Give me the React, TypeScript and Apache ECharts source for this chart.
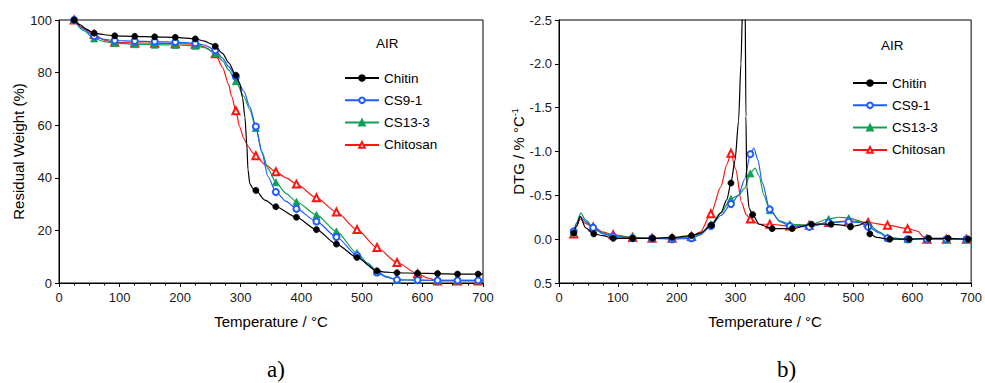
import React, { useEffect, useRef } from 'react';
import * as echarts from 'echarts';

const NAMES = ['Chitin', 'CS9-1', 'CS13-3', 'Chitosan'];
const COLORS = ['#000000', '#1f5cff', '#0f9f55', '#ff1414'];
const SYMBOLS = ['circle', 'emptyCircle', 'triangle', 'emptyTriangle'];
const SYMBOL_SIZES = [6, 6, 7, 7];

const X_TICKS_MAX = 700;
const TGA_TICKS = [0, 100];
const DTG_RANGE = [-2.5, 0.5];

// marker temperatures (°C)
const MARKERS_STD = [25, 58, 92, 125, 158, 192, 225, 258, 292, 325, 358, 392, 425, 458, 492, 525, 558, 592, 625, 658, 692];
const MARKERS_CHITIN_DTG = [25, 59, 92, 125, 159, 192, 225, 259, 292, 329, 362, 396, 429, 462, 495, 528, 562, 595, 628, 661, 695];

// ---- TGA (residual weight, %) ----
const chitinTGA = [
  [25, 100], [35, 98.2], [45, 96.5], [58, 95], [75, 94.4], [92, 94], [125, 93.8], [158, 93.6], [192, 93.4],
  [225, 92.8], [240, 92], [250, 91], [258, 90], [270, 87.3], [280, 83.8], [292, 79], [298, 76], [303, 70.5],
  [307, 63], [310, 53], [312, 43], [315, 37.8], [320, 36], [325, 35.2], [340, 31.5], [358, 29], [392, 25],
  [425, 20.3], [458, 14.8], [492, 9.7], [525, 4.6], [540, 4.1], [558, 3.9], [592, 3.7], [625, 3.6], [658, 3.4],
  [692, 3.4], [700, 3.4],
];
const cs91TGA = [
  [25, 100], [40, 96.5], [58, 93.8], [75, 92.6], [92, 92.2], [125, 92], [158, 91.8], [192, 91.6], [225, 91.2],
  [240, 90.5], [258, 88.5], [270, 85.5], [280, 82.3], [292, 78.5], [305, 73], [315, 67], [325, 59.5], [335, 49.5],
  [345, 40.5], [358, 34.6], [375, 31], [392, 28.2], [425, 23.4], [458, 17.5], [492, 10.5], [510, 7], [525, 4],
  [540, 2.2], [558, 1.2], [592, 1.1], [625, 1.0], [658, 1.0], [692, 1.0], [700, 1.0],
];
const cs133TGA = [
  [25, 100], [40, 96], [58, 93], [75, 91.8], [92, 91.2], [125, 90.8], [158, 90.6], [192, 90.5], [225, 90.2],
  [240, 89.5], [258, 87.5], [270, 84.5], [280, 81], [292, 76.7], [305, 71], [315, 66], [325, 58.9], [335, 50],
  [345, 43.5], [358, 38.3], [375, 34], [392, 30.9], [425, 25.9], [458, 19.6], [492, 11.4], [510, 7.5], [525, 4.5],
  [540, 2.5], [558, 1.2], [592, 1.1], [625, 1.0], [658, 1.0], [692, 1.0], [700, 1.0],
];
const chitosanTGA = [
  [25, 100], [40, 97], [58, 94.5], [75, 92.3], [92, 91.5], [125, 91.3], [158, 91.2], [192, 91.0], [225, 90.8],
  [240, 89.8], [258, 87.2], [270, 82], [280, 75.5], [285, 71], [292, 65.5], [298, 59.5], [305, 55], [312, 52],
  [320, 49.5], [325, 48.4], [340, 45], [358, 42.3], [375, 40], [392, 37.6], [425, 32.4], [458, 27], [492, 20.3],
  [525, 13.5], [558, 7.8], [592, 3.5], [610, 1.8], [625, 0.8], [658, 0.8], [692, 0.8], [700, 0.8],
];

// ---- DTG (%/°C) ----
const chitinDTG = [
  [25, -0.07], [30, -0.15], [36, -0.26], [45, -0.13], [59, -0.06], [75, -0.04], [92, -0.01], [105, -0.01],
  [125, -0.01], [159, -0.01], [192, -0.02], [225, -0.04], [240, -0.07], [259, -0.16], [275, -0.3], [285, -0.45],
  [292, -0.64], [299, -0.9], [305, -1.35], [309, -2.0], [312, -2.7], [314, -3.5], [316, -2.8], [317.5, -1.4],
  [319, -0.6], [323, -0.35], [329, -0.28], [340, -0.17], [362, -0.12], [396, -0.12], [429, -0.17], [462, -0.17],
  [480, -0.16], [495, -0.14], [510, -0.16], [520, -0.19], [524, -0.2], [528, -0.06], [540, -0.02], [562, 0.0],
  [595, 0.0], [628, -0.01], [661, -0.01], [695, 0.0], [700, 0.0],
];
const cs91DTG = [
  [25, -0.09], [30, -0.18], [36, -0.26], [45, -0.2], [58, -0.13], [75, -0.06], [92, -0.03], [125, -0.01],
  [158, -0.01], [192, 0.0], [225, -0.01], [240, -0.05], [258, -0.15], [275, -0.27], [292, -0.4], [305, -0.5],
  [315, -0.68], [325, -0.97], [331, -1.04], [338, -0.9], [345, -0.65], [358, -0.34], [375, -0.2], [392, -0.15],
  [425, -0.14], [458, -0.19], [492, -0.2], [510, -0.19], [525, -0.14], [545, -0.07], [558, -0.01], [592, 0.0],
  [625, 0.0], [658, 0.0], [692, 0.0], [700, 0.0],
];
const cs133DTG = [
  [25, -0.08], [30, -0.19], [37, -0.3], [45, -0.22], [58, -0.14], [75, -0.07], [92, -0.04], [125, -0.02],
  [158, -0.01], [192, -0.01], [225, -0.02], [240, -0.06], [258, -0.17], [275, -0.3], [292, -0.46], [305, -0.5],
  [315, -0.58], [325, -0.75], [333, -0.81], [340, -0.72], [348, -0.5], [358, -0.33], [375, -0.21], [392, -0.17],
  [425, -0.16], [458, -0.23], [475, -0.25], [492, -0.24], [510, -0.21], [525, -0.17], [545, -0.08], [558, -0.02],
  [592, 0.0], [625, -0.01], [658, 0.0], [692, 0.0], [700, 0.0],
];
const chitosanDTG = [
  [25, -0.06], [30, -0.15], [36, -0.23], [45, -0.18], [58, -0.14], [75, -0.08], [92, -0.05], [125, -0.02],
  [158, -0.01], [192, -0.01], [225, -0.03], [240, -0.08], [258, -0.29], [275, -0.6], [285, -0.85], [292, -0.98],
  [300, -0.8], [310, -0.42], [318, -0.28], [325, -0.23], [340, -0.17], [358, -0.17], [392, -0.15], [425, -0.16],
  [458, -0.19], [492, -0.21], [525, -0.19], [558, -0.16], [592, -0.12], [610, -0.09], [618, -0.03], [625, 0.0],
  [658, 0.0], [692, 0.0], [700, 0.0],
];

const TGA_DATA = [chitinTGA, cs91TGA, cs133TGA, chitosanTGA];
const DTG_DATA = [chitinDTG, cs91DTG, cs133DTG, chitosanDTG];
const DTG_MARKERS = [MARKERS_CHITIN_DTG, MARKERS_STD, MARKERS_STD, MARKERS_STD];

const FONT = 'Liberation Sans, Arial, sans-serif';

function buildData(points: number[][], markers: number[]) {
  return points.map((p) =>
    markers.includes(p[0]) ? { value: p } : { value: p, symbol: 'none' }
  );
}

function makeSeries(idx: number, data: any[], axisIndex: number) {
  return {
    type: 'line',
    name: NAMES[idx],
    xAxisIndex: axisIndex,
    yAxisIndex: axisIndex,
    data,
    symbol: SYMBOLS[idx],
    symbolSize: SYMBOL_SIZES[idx],
    showSymbol: true,
    showAllSymbol: true,
    smooth: 0.25,
    smoothMonotone: 'x',
    lineStyle: { color: COLORS[idx], width: 1.2 },
    itemStyle: { color: COLORS[idx], borderColor: COLORS[idx], borderWidth: 0.8 },
    emphasis: { disabled: true },
    z: 10 - idx,
  };
}

function xAxisDef(gridIndex: number) {
  return {
    type: 'value',
    gridIndex,
    min: 0,
    max: X_TICKS_MAX,
    interval: 100,
    name: 'Temperature / °C',
    nameLocation: 'middle',
    nameGap: 31,
    nameTextStyle: { fontSize: 15, color: '#000', fontFamily: FONT },
    axisLine: { show: true, onZero: false, lineStyle: { color: '#000', width: 1 } },
    axisTick: { show: true, inside: false, length: 4, lineStyle: { color: '#000' } },
    minorTick: { show: true, splitNumber: 4, length: 2.5, lineStyle: { color: '#000' } },
    axisLabel: { fontSize: 13, color: '#1a1a1a', margin: 8, fontFamily: FONT },
    splitLine: { show: false },
  };
}

export default function App() {
  const ref = useRef<HTMLDivElement>(null);
  useEffect(() => {
    if (!ref.current) return;
    const chart = echarts.init(ref.current, null, { renderer: 'svg' });
    const series: any[] = [];
    TGA_DATA.forEach((d, i) => series.push(makeSeries(i, buildData(d, MARKERS_STD), 0)));
    DTG_DATA.forEach((d, i) => series.push(makeSeries(i, buildData(d, DTG_MARKERS[i]), 1)));
    const legendBase = {
      orient: 'vertical',
      data: NAMES,
      itemWidth: 34,
      itemHeight: 7,
      itemGap: 8.3,
      padding: 0,
      selectedMode: false,
      textStyle: { fontSize: 13.5, color: '#000', fontFamily: FONT, padding: [0, 0, 0, 0] },
    };
    chart.setOption({
      animation: false,
      textStyle: { fontFamily: FONT },
      grid: [
        { left: 59, top: 20, width: 424, height: 263, show: true, borderColor: '#000', borderWidth: 1, backgroundColor: 'transparent' },
        { left: 559, top: 20, width: 415, height: 263, show: true, borderColor: '#000', borderWidth: 1, backgroundColor: 'transparent' },
      ],
      xAxis: [xAxisDef(0), xAxisDef(1)],
      yAxis: [
        {
          type: 'value',
          gridIndex: 0,
          min: TGA_TICKS[0],
          max: TGA_TICKS[1],
          interval: 20,
          name: 'Residual Weight (%)',
          nameLocation: 'middle',
          nameGap: 28,
          nameTextStyle: { fontSize: 15, color: '#000', fontFamily: FONT },
          axisLine: { show: true, onZero: false, lineStyle: { color: '#000', width: 1 } },
          axisTick: { show: true, inside: false, length: 4, lineStyle: { color: '#000' } },
          axisLabel: { fontSize: 13, color: '#1a1a1a', margin: 7, fontFamily: FONT },
          splitLine: { show: false },
        },
        {
          type: 'value',
          gridIndex: 1,
          min: DTG_RANGE[0],
          max: DTG_RANGE[1],
          interval: 0.5,
          inverse: true,
          name: '{a|DTG / % °C}{s|-1}',
          nameLocation: 'middle',
          nameGap: 25,
          nameTextStyle: {
            fontSize: 15,
            color: '#000',
            fontFamily: FONT,
            rich: {
              a: { fontSize: 15, color: '#000', fontFamily: FONT },
              s: { fontSize: 9, color: '#000', fontFamily: FONT, verticalAlign: 'top' },
            },
          },
          axisLine: { show: true, onZero: false, lineStyle: { color: '#000', width: 1 } },
          axisTick: { show: true, inside: false, length: 4, lineStyle: { color: '#000' } },
          axisLabel: {
            fontSize: 13,
            color: '#1a1a1a',
            margin: 7,
            fontFamily: FONT,
            formatter: (v: number) => v.toFixed(1),
          },
          splitLine: { show: false },
        },
      ],
      legend: [
        { ...legendBase, left: 344, top: 71 },
        { ...legendBase, left: 852, top: 76 },
      ],
      graphic: [
        { type: 'text', left: 376, top: 36, style: { text: 'AIR', fontSize: 13.5, fill: '#000', fontFamily: FONT } },
        { type: 'text', left: 881, top: 38, style: { text: 'AIR', fontSize: 13.5, fill: '#000', fontFamily: FONT } },
        { type: 'text', left: 267, top: 358, style: { text: 'a)', fontSize: 23, fill: '#000', fontFamily: 'Liberation Serif, Times New Roman, serif' } },
        { type: 'text', left: 777, top: 358, style: { text: 'b)', fontSize: 23, fill: '#000', fontFamily: 'Liberation Serif, Times New Roman, serif' } },
      ],
      series,
    });
    return () => chart.dispose();
  }, []);
  return <div ref={ref} style={{ position: 'absolute', left: 0, top: 0, width: 985, height: 383 }} />;
}
